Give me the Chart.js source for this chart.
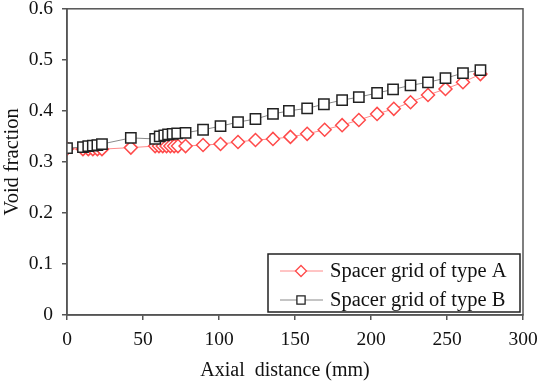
<!DOCTYPE html>
<html>
<head>
<meta charset="utf-8">
<script src="https://cdn.jsdelivr.net/npm/chart.js@4/dist/chart.umd.min.js"></script>
<style>
html,body{margin:0;padding:0;background:#fff;}
#c{display:block;}
</style>
</head>
<body>
<canvas id="c" width="540" height="383"></canvas>
<script>
const xTicks = [0, 50, 100, 150, 200, 250, 300];
const yTicks = [0, 0.1, 0.2, 0.3, 0.4, 0.5, 0.6];

const labelA = 'Spacer grid of type A';
const xA = [0, 10.5, 14, 17, 20, 23, 42, 58, 60.5, 63, 65.5, 68, 70.5, 73, 78, 89.5, 101, 112.5, 124, 135.5, 147, 158, 169.5, 181, 192, 204, 215, 226, 237.5, 249, 260.5, 272];
const vA = [0.326, 0.325, 0.325, 0.325, 0.325, 0.325, 0.328, 0.331, 0.331, 0.331, 0.331, 0.331, 0.331, 0.331, 0.331, 0.333, 0.335, 0.339, 0.343, 0.345, 0.349, 0.355, 0.363, 0.372, 0.382, 0.394, 0.404, 0.417, 0.431, 0.443, 0.456, 0.472];

const labelB = 'Spacer grid of type B';
const xB = [0, 10.5, 14, 17, 20, 23, 42, 58, 61, 64, 66.5, 69.5, 72.5, 78, 89.5, 101, 112.5, 124, 135.5, 146, 158, 169, 181, 192, 204, 214.5, 226, 237.5, 249, 260.5, 272];
const vB = [0.327, 0.329, 0.331, 0.332, 0.333, 0.335, 0.347, 0.345, 0.350, 0.352, 0.354, 0.355, 0.356, 0.357, 0.363, 0.370, 0.378, 0.384, 0.394, 0.400, 0.405, 0.413, 0.421, 0.427, 0.435, 0.442, 0.450, 0.456, 0.464, 0.474, 0.480];

const toPts = (xs, vs) => xs.map((x, i) => ({x: x, y: vs[i]}));

const FONT = "'Liberation Serif', 'Times New Roman', serif";
const AXIS = '#555';

const frame = {
  id: 'frame',
  afterDatasetsDraw(chart) {
    const {ctx, chartArea: a} = chart;
    ctx.save();
    ctx.strokeStyle = AXIS;
    ctx.lineWidth = 1.5;
    ctx.strokeRect(a.left, a.top, a.right - a.left, a.bottom - a.top);
    ctx.restore();
  }
};

const boxLegend = {
  id: 'boxLegend',
  afterDraw(chart) {
    const {ctx, chartArea: a} = chart;
    const w = 252, h = 58;
    const x0 = a.right - 3 - w, y0 = a.bottom - 3 - h;
    ctx.save();
    ctx.fillStyle = '#fff';
    ctx.fillRect(x0, y0, w, h);
    ctx.strokeStyle = '#222';
    ctx.lineWidth = 1.5;
    ctx.strokeRect(x0, y0, w, h);
    [0, 1].forEach((di, row) => {
      const ds = chart.data.datasets[di];
      const cy = y0 + 17 + row * 29;
      ctx.strokeStyle = ds.borderColor;
      ctx.lineWidth = 1;
      ctx.beginPath();
      ctx.moveTo(x0 + 12, cy);
      ctx.lineTo(x0 + 55, cy);
      ctx.stroke();
      ctx.fillStyle = '#fff';
      ctx.strokeStyle = ds.pointBorderColor;
      ctx.lineWidth = 1.3;
      Chart.helpers.drawPoint(ctx, {pointStyle: ds.pointStyle, rotation: 0, borderWidth: 1.3, radius: ds.legendRadius}, x0 + 33, cy);
      ctx.fillStyle = '#111';
      ctx.font = '20.5px ' + FONT;
      ctx.textBaseline = 'middle';
      ctx.textAlign = 'left';
      ctx.fillText(ds.label, x0 + 62, cy + 1);
    });
    ctx.restore();
  }
};

new Chart(document.getElementById('c'), {
  type: 'line',
  data: {
    datasets: [
      {
        label: labelA,
        data: toPts(xA, vA),
        borderColor: '#ff8a8a',
        borderWidth: 1,
        pointStyle: 'rectRot',
        pointRadius: 6.5,
        pointBorderColor: '#ff4a4a',
        pointBackgroundColor: '#fff',
        pointBorderWidth: 1.5,
        legendRadius: 5.5,
        order: 2,
        tension: 0
      },
      {
        label: labelB,
        data: toPts(xB, vB),
        borderColor: '#8a8a8a',
        borderWidth: 1,
        pointStyle: 'rect',
        pointRadius: 7.3,
        pointBorderColor: '#222',
        pointBackgroundColor: '#fff',
        pointBorderWidth: 1.5,
        legendRadius: 5.8,
        order: 1,
        tension: 0
      }
    ]
  },
  options: {
    responsive: false,
    devicePixelRatio: 1,
    animation: false,
    layout: {padding: {top: 7, right: 17, left: 0, bottom: 0}},
    plugins: {legend: {display: false}, tooltip: {enabled: false}},
    scales: {
      x: {
        type: 'linear',
        min: 0, max: 300,
        afterBuildTicks(s) { s.ticks = xTicks.map(v => ({value: v})); },
        afterFit(s) { s.height = 68; s.paddingLeft = 0; s.paddingRight = 0; },
        border: {display: true, color: AXIS, width: 1.5},
        grid: {display: true, drawOnChartArea: false, drawTicks: true, tickLength: 5, color: AXIS, lineWidth: 1.5},
        ticks: {color: '#111', font: {family: FONT, size: 19.5}, padding: 8, maxRotation: 0},
        title: {display: true, text: 'Axial  distance (mm)\u2002\u2002', color: '#111', font: {family: FONT, size: 20}, padding: {top: 4, bottom: 0}}
      },
      y: {
        type: 'linear',
        min: 0, max: 0.6,
        afterBuildTicks(s) { s.ticks = yTicks.map(v => ({value: v})); },
        afterFit(s) { s.width = 67; s.paddingTop = 0; s.paddingBottom = 0; },
        border: {display: true, color: AXIS, width: 1.5},
        grid: {display: true, drawOnChartArea: false, drawTicks: true, tickLength: 5, color: AXIS, lineWidth: 1.5},
        ticks: {color: '#111', font: {family: FONT, size: 19.5}, padding: 9, callback: v => String(Math.round(v * 10) / 10)},
        title: {display: true, text: 'Void fraction', color: '#111', font: {family: FONT, size: 20.5}, padding: {top: 0, bottom: 0}}
      }
    }
  },
  plugins: [frame, boxLegend]
});
</script>
</body>
</html>
